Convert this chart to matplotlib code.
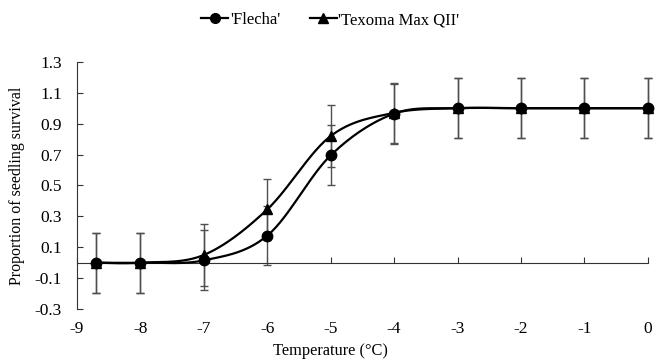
import numpy as np
import matplotlib
matplotlib.use("Agg")
import matplotlib.pyplot as plt

plt.rcParams["font.family"] = ["Liberation Serif", "DejaVu Serif"]

temps = [-8.7, -8, -7, -6, -5, -4, -3, -2, -1, 0]
flecha = [0.0, 0.0, 0.015, 0.175, 0.695, 0.965, 1.0, 1.0, 1.0, 1.0]
texoma = [0.0, 0.0, 0.05, 0.345, 0.82, 0.97, 1.0, 1.0, 1.0, 1.0]
flecha_err = [0.195, 0.195, 0.195, 0.19, 0.195, 0.195, 0.195, 0.195, 0.195, 0.195]
texoma_err = [0.195, 0.195, 0.2, 0.2, 0.2, 0.195, 0.195, 0.195, 0.195, 0.195]
yticks = [-0.3, -0.1, 0.1, 0.3, 0.5, 0.7, 0.9, 1.1, 1.3]
xticks = [-9, -8, -7, -6, -5, -4, -3, -2, -1, 0]


def smooth(xs, ys, n=30):
    # excel-like smoothed line (catmull-rom bezier)
    p = np.column_stack([xs, ys]).astype(float)
    p = np.vstack([p[0], p, p[-1]])
    out = []
    t = np.linspace(0, 1, n)[:, None]
    for i in range(1, len(p) - 2):
        p0, p3 = p[i], p[i + 1]
        p1 = p0 + (p[i + 1] - p[i - 1]) / 6
        p2 = p3 - (p[i + 2] - p[i]) / 6
        seg = ((1 - t) ** 3) * p0 + 3 * ((1 - t) ** 2) * t * p1 + 3 * (1 - t) * t ** 2 * p2 + t ** 3 * p3
        out.append(seg)
    out = np.vstack(out)
    return out[:, 0], out[:, 1]


fig = plt.figure(figsize=(6.61, 3.64), dpi=100)
ax = fig.add_axes([0.1165, 0.151, 0.8635, 0.679])

ecol = "#505050"
for ys, err in [(flecha, flecha_err), (texoma, texoma_err)]:
    ax.errorbar(temps, ys, yerr=err, fmt="none", ecolor=ecol, elinewidth=1.0,
                capsize=3, capthick=1.0, zorder=2, clip_on=False)

for ys, mk, lab in [(texoma, "^", "'Texoma Max QII'"), (flecha, "o", "'Flecha'")]:
    sx, sy = smooth(temps, ys)
    ax.plot(sx, sy, color="black", lw=1.6, zorder=3, clip_on=False)
    ax.plot(temps, ys, linestyle="none", marker=mk, color="black", ms=7.5,
            zorder=4, clip_on=False)

h1, = ax.plot([], [], color="black", lw=1.6, marker="o", ms=7)
h2, = ax.plot([], [], color="black", lw=1.6, marker="^", ms=7)
fig.legend([h1, h2], ["'Flecha'", "'Texoma Max QII'"], loc="center",
           bbox_to_anchor=(0.5, 0.945), ncol=2, frameon=False, fontsize=12,
           handlelength=1.6, handletextpad=0.1, columnspacing=1.8)

ax.set_xlim(-9, 0)
ax.set_ylim(-0.3, 1.3)
ax.set_xticks(xticks)
ax.set_yticks(yticks)
ax.set_xticklabels([str(v) for v in xticks])
ax.set_yticklabels([f"{v:.1f}" for v in yticks])

for s in ["top", "right"]:
    ax.spines[s].set_visible(False)
ax.spines["bottom"].set_position(("data", 0))
ax.spines["bottom"].set_color("#333333")
ax.spines["left"].set_color("#333333")
ax.tick_params(axis="x", direction="in", length=4, pad=42, labelsize=12.5, color="#333333")
ax.tick_params(axis="y", direction="in", length=4, pad=11, labelsize=12.5, color="#333333")

ax.set_ylabel("Proportion of seedling survival", fontsize=11.5)
ax.yaxis.set_label_coords(-0.091, 0.5)
fig.text(0.5, 0.036, "Temperature (°C)", ha="center", va="center", fontsize=11.8)

fig.savefig("out.png", dpi=100)
